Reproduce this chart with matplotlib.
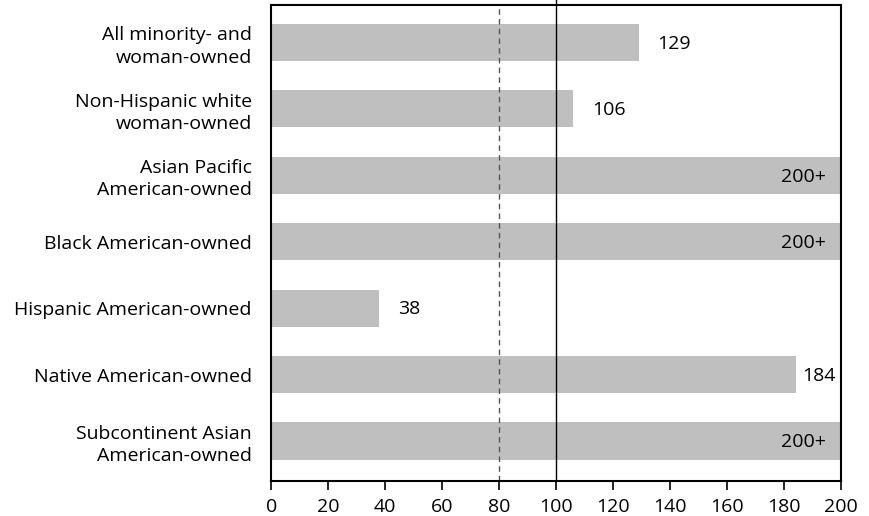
import matplotlib.pyplot as plt

categories = ["All minority- and\nwoman-owned", "Non-Hispanic white\nwoman-owned",
              "Asian Pacific\nAmerican-owned", "Black American-owned",
              "Hispanic American-owned", "Native American-owned",
              "Subcontinent Asian\nAmerican-owned"]
values = [129, 106, 200, 200, 38, 184, 200]
labels = ["129", "106", "200+", "200+", "38", "184", "200+"]
ticks = list(range(0, 201, 20))

plt.rcParams['font.family'] = ['Open Sans', 'DejaVu Sans']

fig = plt.figure(figsize=(8.69, 5.16), dpi=100)
ax = fig.add_axes([0.312, 0.068, 0.656, 0.922])

ypos = list(range(len(categories)))
ax.barh(ypos, values, height=0.56, color="#bfbfbf", zorder=1)
ax.axvline(80, color="#555555", linestyle=(0, (4, 3)), linewidth=1, zorder=2)
ax.axvline(100, color="black", linewidth=1, ymax=1.01, clip_on=False, zorder=2)

for y, v, lab in zip(ypos, values, labels):
    if v >= 200:
        ax.text(v - 5.3, y + 0.02, lab, ha="right", va="center", fontsize=14)
    elif v + 6 + 12 > 200:
        # no room outside: push label against the right edge
        ax.text(198, y + 0.02, lab, ha="right", va="center", fontsize=14)
    else:
        ax.text(v + 6.5, y + 0.02, lab, ha="left", va="center", fontsize=14)

ax.set_xlim(0, 200)
ax.set_ylim(6.6, -0.56)
ax.set_xticks(ticks)
ax.set_yticks(ypos)
ax.set_yticklabels(categories, fontsize=14, linespacing=1.3)
ax.tick_params(axis="x", labelsize=14, length=6.5, width=1.2, direction="out", pad=6)
ax.tick_params(axis="y", length=0, pad=14)
for sp in ax.spines.values():
    sp.set_linewidth(1.5)

fig.savefig("out.png", dpi=100)
